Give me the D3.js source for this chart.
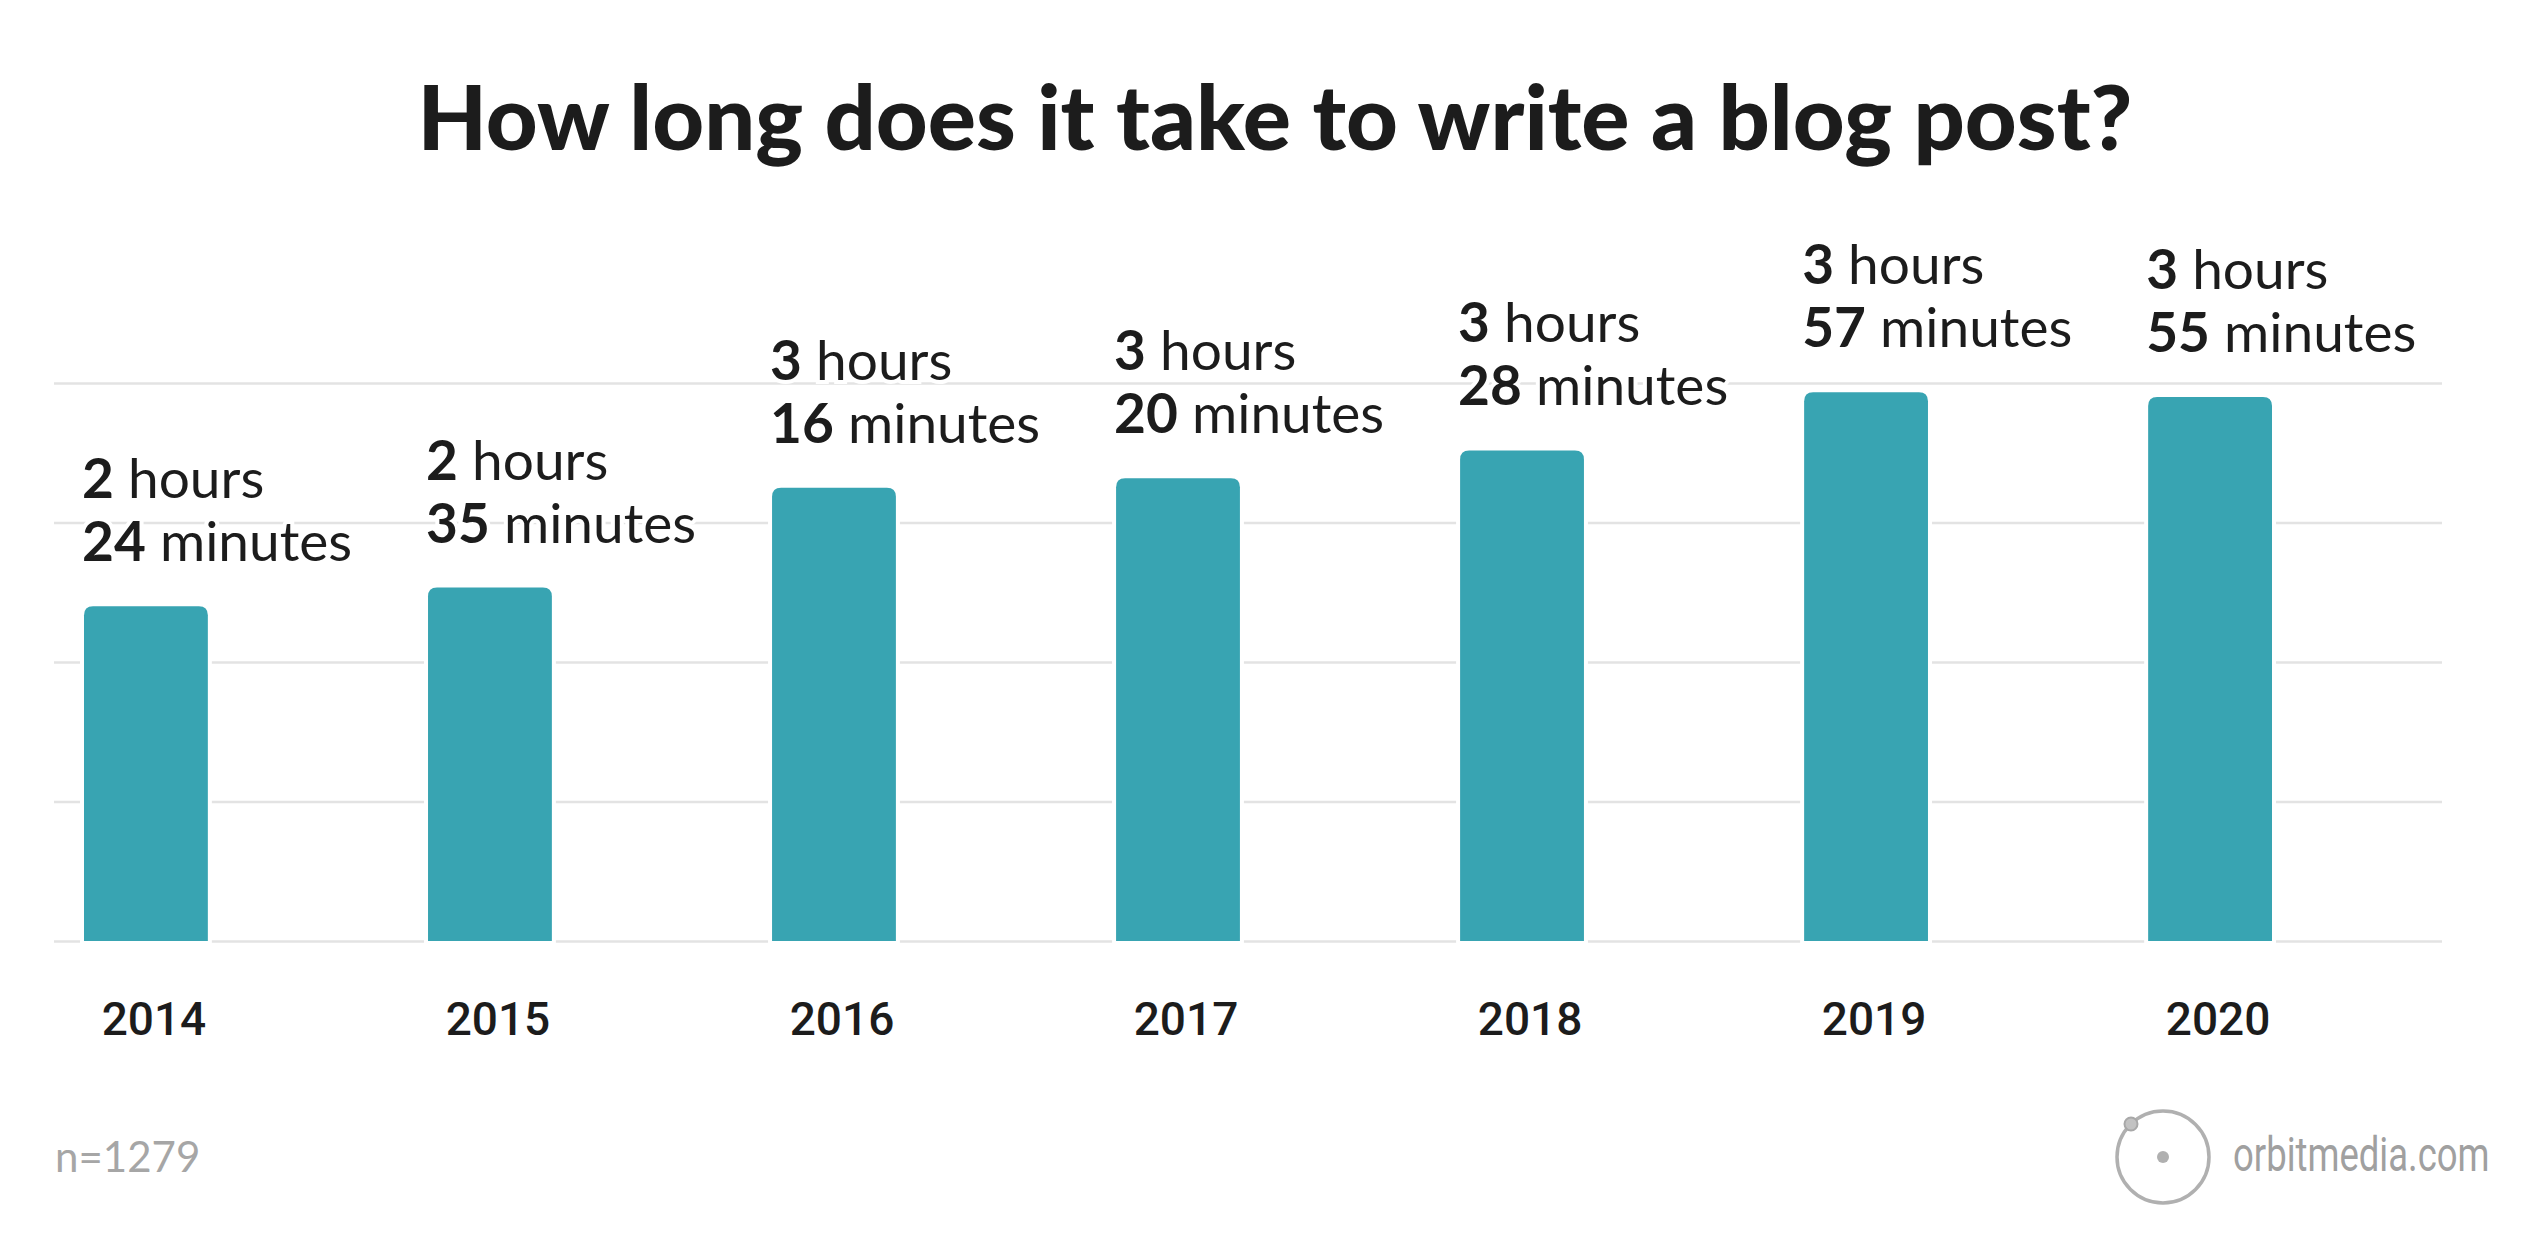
<!DOCTYPE html>
<html>
<head>
<meta charset="utf-8">
<script src="https://cdn.jsdelivr.net/npm/d3@7"></script>
<style>
  html, body { margin: 0; padding: 0; background: #fff; }
  svg { display: block; }
</style>
</head>
<body>
<script>
// ---- data ----
const years = ["2014", "2015", "2016", "2017", "2018", "2019", "2020"];
const barMinutes = [144, 152, 195, 199, 211, 236, 234];
const labelHours = [2, 2, 3, 3, 3, 3, 3];
const labelMinutes = [24, 35, 16, 20, 28, 57, 55];
const gridTicks = [0, 60, 120, 180, 240];
const titleText = "How long does it take to write a blog post?";
const sampleNote = "n=1279";
const brandText = "orbitmedia.com";

// ---- layout ----
const W = 2544, H = 1250;
const svg = d3.select("body").append("svg").attr("width", W).attr("height", H);
svg.append("rect").attr("width", W).attr("height", H).attr("fill", "#fff");

const x = d3.scaleBand().domain(years).range([84, 2272]).paddingInner(0.64).paddingOuter(0);
const y = d3.scaleLinear().domain([0, 240]).range([941, 383]);

// title
svg.append("text")
  .attr("x", 1275).attr("y", 150)
  .attr("text-anchor", "middle")
  .attr("font-family", "Lato, 'Open Sans', sans-serif")
  .attr("font-weight", 900)
  .attr("font-size", 90)
  .attr("fill", "#1c1c1c")
  .text(titleText);

// gridlines
const gridAxis = d3.axisLeft(y).tickValues(gridTicks).tickSize(-(2442 - 54)).tickFormat("");
const g = svg.append("g").attr("transform", "translate(54,0)").call(gridAxis);
g.select(".domain").remove();
g.selectAll(".tick line").attr("stroke", "#e3e3e3").attr("stroke-width", 2.5);

// bars with rounded top corners
const r = 9;
function barPath(d, i) {
  const x0 = x(years[i]), w = x.bandwidth(), y0 = y(d), yb = y(0);
  return `M${x0},${yb} V${y0 + r} Q${x0},${y0} ${x0 + r},${y0} H${x0 + w - r} Q${x0 + w},${y0} ${x0 + w},${y0 + r} V${yb} Z`;
}
svg.append("g").selectAll("path").data(barMinutes).join("path")
  .attr("d", barPath)
  .attr("fill", "#38a4b2")
  .attr("stroke", "#fff").attr("stroke-width", 8).attr("paint-order", "stroke");

// value labels
const labelFont = "Lato, 'Open Sans', sans-serif";
const lbl = svg.append("g").selectAll("g").data(barMinutes).join("g");
lbl.each(function (d, i) {
  const gg = d3.select(this);
  const lx = x(years[i]) - 2;
  const t1 = gg.append("text").attr("x", lx).attr("y", y(d) - 108)
    .attr("font-family", labelFont).attr("font-size", 55).attr("fill", "#1c1c1c")
    .attr("stroke", "#fff").attr("stroke-width", 8).attr("paint-order", "stroke");
  t1.append("tspan").attr("font-weight", 700).text(labelHours[i]);
  t1.append("tspan").attr("font-weight", 400).text(" hours");
  const t2 = gg.append("text").attr("x", lx).attr("y", y(d) - 45)
    .attr("font-family", labelFont).attr("font-size", 55).attr("fill", "#1c1c1c")
    .attr("stroke", "#fff").attr("stroke-width", 8).attr("paint-order", "stroke");
  t2.append("tspan").attr("font-weight", 700).text(labelMinutes[i]);
  t2.append("tspan").attr("font-weight", 400).text(" minutes");
});

// x axis labels
const xAxis = d3.axisBottom(x).tickSize(0).tickPadding(0);
const xg = svg.append("g").attr("transform", "translate(8,1035)").call(xAxis);
xg.select(".domain").remove();
xg.selectAll(".tick text")
  .attr("dy", 0).attr("y", 0)
  .attr("font-family", "Roboto, sans-serif")
  .attr("font-weight", 500)
  .attr("font-size", 46)
  .attr("fill", "#1c1c1c");

// footer note
svg.append("text").attr("x", 55).attr("y", 1172)
  .attr("font-family", "Lato, sans-serif").attr("font-size", 42)
  .attr("fill", "#a6a6a6").text(sampleNote);

// logo
const logo = svg.append("g").attr("transform", "translate(2163,1157)");
logo.append("circle").attr("r", 46).attr("fill", "none").attr("stroke", "#b0b0b0").attr("stroke-width", 3.5);
logo.append("circle").attr("r", 6).attr("fill", "#b0b0b0");
logo.append("circle").attr("cx", -32).attr("cy", -33).attr("r", 6.5).attr("fill", "#c2c2c2").attr("stroke", "#a8a8a8").attr("stroke-width", 2);
svg.append("g").attr("transform", "translate(2233,1171) scale(0.76,1)")
  .append("text").attr("x", 0).attr("y", 0)
  .attr("font-family", "Roboto, sans-serif")
  .attr("font-size", 48)
  .attr("fill", "#a0a0a0").text(brandText);
</script>
</body>
</html>
